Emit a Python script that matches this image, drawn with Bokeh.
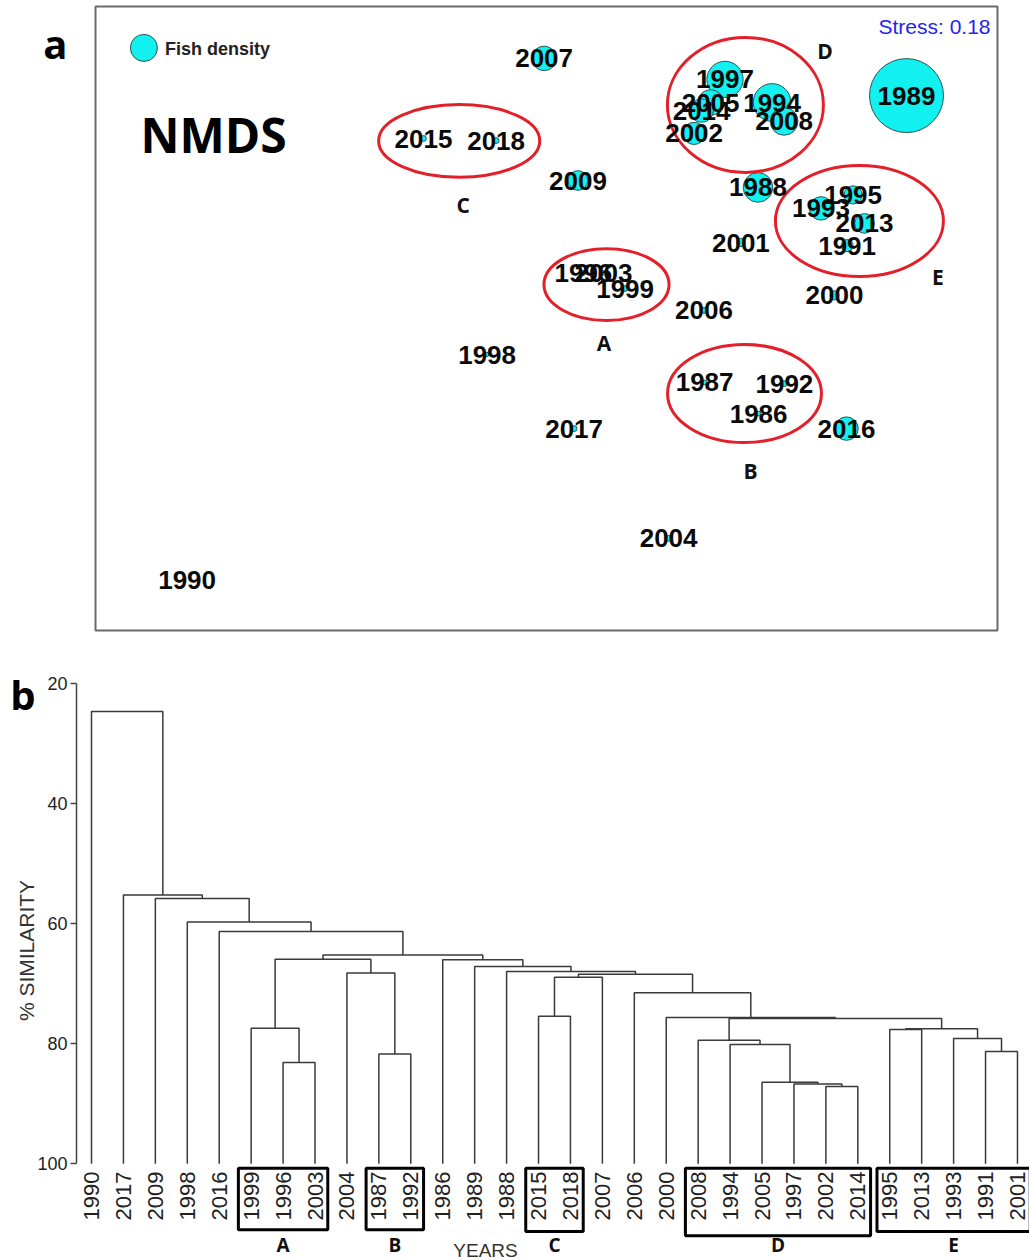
import math
from bokeh.plotting import figure
from bokeh.models import (Range1d, ColumnDataSource, Label, FixedTicker, BoxAnnotation,
                          LinearAxis)
from bokeh.layouts import column
from bokeh.core.properties import value
from bokeh.embed import file_html
from bokeh.resources import INLINE

# ---------------- data: panel a (NMDS ordination of years) ----------------
years = ["1986", "1987", "1988", "1989", "1990", "1991", "1992", "1993", "1994", "1995",
         "1996", "1997", "1998", "1999", "2000", "2001", "2002", "2003", "2004", "2005",
         "2006", "2007", "2008", "2009", "2013", "2014", "2015", "2016", "2017", "2018"]
nmds1 = [0.527, 0.347, 0.525, 1.020, -1.378, 0.822, 0.613, 0.735, 0.572, 0.842,
         -0.057, 0.415, -0.378, 0.082, 0.780, 0.468, 0.312, 0.010, 0.227, 0.367,
         0.345, -0.188, 0.612, -0.075, 0.880, 0.337, -0.590, 0.820, -0.088, -0.348]
nmds2 = [-0.277, -0.173, 0.477, 0.783, -0.833, 0.283, -0.177, 0.407, 0.760, 0.452,
         0.192, 0.837, -0.080, 0.140, 0.117, 0.293, 0.657, 0.192, -0.693, 0.760,
         0.067, 0.907, 0.697, 0.500, 0.357, 0.733, 0.640, -0.327, -0.327, 0.633]
fish_density = [0.4, 0.4, 16, 100, 0, 2.6, 0.6, 10, 26, 6,
                0.4, 24, 0.3, 0.6, 1.5, 1.2, 9, 0.4, 0.6, 12,
                0.6, 11, 14, 7, 7, 10, 0.6, 10, 0.6, 0.6]
stress = 0.18

cluster_names = ["A", "B", "C", "D", "E"]
cluster_cx = [0.020, 0.480, -0.471, 0.483, 0.863]
cluster_cy = [0.153, -0.210, 0.632, 0.752, 0.365]
cluster_w = [0.417, 0.513, 0.537, 0.520, 0.560]
cluster_h = [0.240, 0.327, 0.242, 0.450, 0.370]
cluster_lab_x = [0.012, 0.500, -0.458, 0.748, 1.125]
cluster_lab_y = [-0.042, -0.468, 0.417, 0.932, 0.177]

# ---------------- data: panel b (cluster dendrogram) ----------------
leaf_order = ["1990", "2017", "2009", "1998", "2016", "1999", "1996", "2003", "2004", "1987",
              "1992", "1986", "1989", "1988", "2015", "2018", "2007", "2006", "2000", "2008",
              "1994", "2005", "1997", "2002", "2014", "1995", "2013", "1993", "1991", "2001"]
# (child a, child b, % similarity at which they join); "mK" = result of merge K
merges = [
    ("1996", "2003", 83.1),   # m0
    ("1999", "m0", 77.4),     # m1  A
    ("1987", "1992", 81.7),   # m2  B
    ("2004", "m2", 68.2),     # m3
    ("m1", "m3", 65.9),       # m4
    ("2015", "2018", 75.4),   # m5  C
    ("m5", "2007", 68.9),     # m6
    ("2002", "2014", 87.1),   # m7
    ("1997", "m7", 86.7),     # m8
    ("2005", "m8", 86.4),     # m9
    ("1994", "m9", 80.1),     # m10
    ("2008", "m10", 79.4),    # m11 D
    ("1995", "2013", 77.6),   # m12
    ("1991", "2001", 81.3),   # m13
    ("1993", "m13", 79.1),    # m14
    ("m12", "m14", 77.5),     # m15 E
    ("m11", "m15", 75.8),     # m16
    ("2000", "m16", 75.6),    # m17
    ("2006", "m17", 71.5),    # m18
    ("m6", "m18", 68.4),      # m19
    ("1988", "m19", 67.95),   # m20
    ("1989", "m20", 67.1),    # m21
    ("1986", "m21", 66.0),    # m22
    ("m4", "m22", 65.2),      # m23
    ("2016", "m23", 61.3),    # m24
    ("1998", "m24", 59.7),    # m25
    ("2009", "m25", 55.8),    # m26
    ("2017", "m26", 55.2),    # m27
    ("1990", "m27", 24.6),    # m28
]
group_names = ["A", "B", "C", "D", "E"]
group_first = ["1999", "1987", "2015", "2008", "1995"]
group_last = ["2003", "1992", "2018", "2014", "2001"]
y_ticks = [20, 40, 60, 80, 100]

FONT = "Liberation Sans"
BOLD_FONT = "Open Sans"
LEFT = 76  # shared left border of both panels


def letter_axis(tick, letter, standoff):
    """Panel letter drawn as the single tick label of an otherwise invisible left axis."""
    ax_ = LinearAxis(ticker=FixedTicker(ticks=[tick]), major_label_overrides={tick: letter})
    ax_.axis_line_color = None
    ax_.major_tick_line_color = None
    ax_.minor_tick_line_color = None
    ax_.major_tick_out = 0
    ax_.major_tick_in = 0
    ax_.major_label_standoff = standoff
    ax_.major_label_text_font = BOLD_FONT
    ax_.major_label_text_font_size = "40px"
    ax_.major_label_text_font_style = "bold"
    ax_.major_label_text_color = "#000000"
    return ax_


# ======================= panel a =======================
HA = 640
pa = figure(width=1029, height=HA,
            x_range=Range1d((LEFT - 600) / 300, (1029 - 600) / 300),
            y_range=Range1d((330 - HA) / 300, 330 / 300),
            x_axis_type=None, y_axis_type=None,
            toolbar_location=None, output_backend="svg",
            min_border_left=LEFT, min_border_right=0, min_border_top=0, min_border_bottom=0)
pa.outline_line_color = None
pa.background_fill_color = "white"
pa.border_fill_color = "white"

# ordination plot frame
pa.add_layout(BoxAnnotation(left=-1.6833, right=1.3233, bottom=-1.0, top=1.08,
                            fill_alpha=0, line_color="#6a6a6a", line_alpha=1.0,
                            line_width=2))

order = sorted(range(len(years)), key=lambda i: -fish_density[i])
bub = ColumnDataSource(dict(
    x=[nmds1[i] for i in order if fish_density[i] > 0],
    y=[nmds2[i] for i in order if fish_density[i] > 0],
    size=[7.4 * math.sqrt(fish_density[i]) for i in order if fish_density[i] > 0],
))
pa.scatter("x", "y", size="size", source=bub, marker="circle",
           fill_color="#12F0F0", line_color="#2a5555", line_width=1)

pa.ellipse(x=cluster_cx, y=cluster_cy, width=cluster_w, height=cluster_h,
           fill_color=None, line_color="#e3202a", line_width=3)

lab = ColumnDataSource(dict(x=nmds1, y=nmds2, t=years))
pa.text("x", "y", text="t", source=lab, text_font=value(FONT), text_font_size="26px",
        text_font_style="bold", text_align="center", text_baseline="middle",
        text_color="#0a0a0a")

pa.text(x=cluster_lab_x, y=cluster_lab_y, text=cluster_names, text_font=value(BOLD_FONT),
        text_font_size="21px", text_font_style="bold", text_align="center",
        text_baseline="middle", text_color="#111111")

# legend key for bubble size
pa.scatter(x=[-1.522], y=[0.942], size=27, marker="circle",
           fill_color="#12F0F0", line_color="#2a5555", line_width=1)
pa.add_layout(Label(x=-1.452, y=0.937, text="Fish density", text_font=FONT,
                    text_font_size="18px", text_font_style="bold", text_color="#222222",
                    text_align="left", text_baseline="middle"))
pa.add_layout(Label(x=1.30, y=1.013, text=f"Stress: {stress:.2f}", text_font=FONT,
                    text_font_size="21px", text_color="#2424EE",
                    text_align="right", text_baseline="middle"))
pa.add_layout(Label(x=-1.29, y=0.653, text="NMDS", text_font=BOLD_FONT,
                    text_font_size="48px", text_font_style="bold", text_color="#000000",
                    text_align="center", text_baseline="middle"))
pa.add_layout(letter_axis((330 - 43) / 300, "a", 9), "left")

# ======================= panel b =======================
HB = 620
TOP_B = 640  # page y of panel b's top edge


def sim_at(page_y):
    return 20 + (page_y - 683.3) / 6.0


pb = figure(width=1029, height=HB,
            x_range=Range1d((LEFT - 91) / 31.93, (1029 - 91) / 31.93),
            y_range=Range1d(sim_at(TOP_B + HB), sim_at(TOP_B)),
            x_axis_type=None, toolbar_location=None, output_backend="svg",
            min_border_left=LEFT, min_border_right=0, min_border_top=0, min_border_bottom=0)
pb.outline_line_color = None
pb.grid.visible = False
pb.background_fill_color = "white"
pb.border_fill_color = "white"

ax = pb.yaxis[0]
ax.ticker = FixedTicker(ticks=y_ticks)
ax.bounds = (20, 100)
ax.axis_label = "% SIMILARITY"
ax.axis_label_text_font = FONT
ax.axis_label_text_font_size = "21px"
ax.axis_label_text_font_style = "normal"
ax.axis_label_text_color = "#333333"
ax.axis_label_standoff = -4
ax.axis_line_color = "#444444"
ax.axis_line_width = 1.5
ax.major_tick_line_color = "#444444"
ax.major_tick_line_width = 1.5
ax.major_tick_out = 6
ax.major_tick_in = 0
ax.minor_tick_line_color = None
ax.major_label_text_font = FONT
ax.major_label_text_font_size = "18px"
ax.major_label_text_color = "#222222"
ax.major_label_standoff = 3

pb.add_layout(letter_axis(sim_at(694), "b", -23), "left")

pos = {name: (i, 100.0) for i, name in enumerate(leaf_order)}
xs, ys = [], []
for k, (a, b, s) in enumerate(merges):
    xa, ya = pos[a]
    xb, yb = pos[b]
    xs.append([xa, xa, xb, xb])
    ys.append([ya, s, s, yb])
    pos[f"m{k}"] = ((xa + xb) / 2.0, s)
pb.multi_line(xs, ys, line_color="#3a3a3a", line_width=1.5)

leaf_idx = list(range(len(leaf_order)))
pb.text(x=leaf_idx, y=[101.3] * len(leaf_order), text=leaf_order, angle=math.pi / 2,
        text_font=value(FONT), text_font_size="22px", text_align="right",
        text_baseline="middle", text_color="#222222")

gl = [leaf_order.index(f) - 0.4 for f in group_first]
gr = [leaf_order.index(l) + 0.4 for l in group_last]
gb = [111.0, 111.0, 111.3, 112.0, 111.3]
pb.quad(left=gl, right=gr, top=[100.75] * 5, bottom=gb, fill_color=None,
        line_color="#000000", line_width=3)
pb.text(x=[(l + r) / 2 for l, r in zip(gl, gr)], y=[113.6] * 5, text=group_names,
        text_font=value(BOLD_FONT), text_font_size="19px", text_font_style="bold",
        text_align="center", text_baseline="middle", text_color="#111111")
pb.add_layout(Label(x=12.34, y=114.4, text="YEARS", text_font=FONT, text_font_size="19px",
                    text_color="#333333", text_align="center", text_baseline="middle"))

layout = column(pa, pb)
open("out.html", "w").write(file_html(layout, INLINE))
